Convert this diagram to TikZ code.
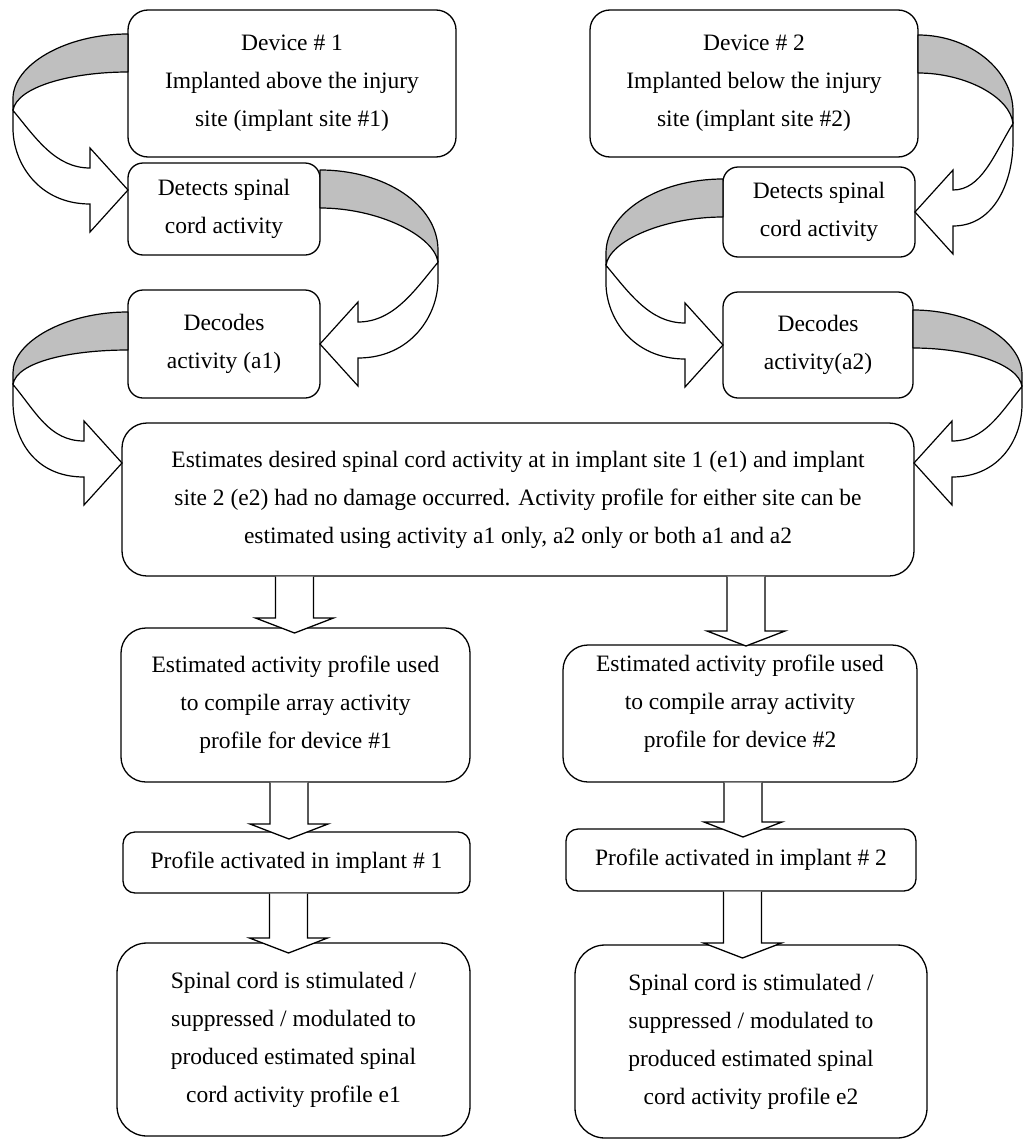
\documentclass[tikz,border=0pt]{standalone}
\usepackage{fontspec}
\setmainfont{Liberation Serif}
\usetikzlibrary{calc}

% Down-pointing block arrow: #1 gives the top edge (only its y is used), #2 the tip.
\newcommand\blockdown[2]{%
  \path[blockarr] let \p1=(#1), \p2=(#2) in
    ({\x2-19},{\y1-0.7}) -- ({\x2-19},{\y2+15}) -- ({\x2-39},{\y2+15}) -- (\p2)
    -- ({\x2+39},{\y2+15}) -- ({\x2+19},{\y2+15}) -- ({\x2+19},{\y1-0.7});}

% Twisted ribbon arrow: #1 top of ribbon at the source box side, #2 arrow tip,
% #3 direction (-1 left, 1 right), #4 reach, #5 position of the twist (fraction).
\newcommand\ribbon[5]{%
  \path[ribbonback] let \p1=(#1), \p2=(#2), \n2={\y1-\y2}, \n1={\y1-(#5)*\n2} in
    (\p1) .. controls ({\x1+(#3)*0.55*(#4)},{\y1}) and ({\x1+(#3)*(#4)},{\y1-0.2*\n2})
      .. ({\x1+(#3)*(#4)},{\n1+12}) -- ({\x1+(#3)*(#4)},{\n1})
      .. controls ({\x1+(#3)*0.97*(#4)},{\n1+0.15*\n2}) and ({\x1+(#3)*0.5*(#4)},{\y1-38})
      .. ({\x1},{\y1-38}) -- cycle;
  \path[ribbonfront] let \p1=(#1), \p2=(#2), \n2={\y1-\y2}, \n1={\y1-(#5)*\n2}, \n3={\n1-\y2} in
    ({\x1+(#3)*(#4)},{\n1}) -- ({\x1+(#3)*(#4)},{\n1-18})
      .. controls ({\x1+(#3)*(#4)},{\n1-18-0.45*(\n3-4)}) and ({\x2+(#3)*(38+0.45*(#4))},{\y2-14})
      .. ({\x2+(#3)*38},{\y2-14})
      -- ({\x2+(#3)*38},{\y2-42}) -- (\p2) -- ({\x2+(#3)*38},{\y2+42}) -- ({\x2+(#3)*38},{\y2+22})
      .. controls ({\x2+(#3)*(38+0.3*(#4))},{\y2+22}) and ({\x1+(#3)*0.8*(#4)},{\n1-0.35*\n3})
      .. ({\x1+(#3)*(#4)},{\n1}) -- cycle;}

\begin{document}
\begin{tikzpicture}[x=1pt,y=1pt,
  boxtext/.style={align=center, inner sep=0pt, font=\fontsize{23.5}{38}\selectfont},
  box/.style={boxtext, draw, line width=1.3pt, fill=white,
    outer sep=0pt, rounded corners=20pt},
  blockarr/.style={draw, fill=white, line width=1.3pt, line join=miter},
  ribbonback/.style={draw, fill=black!25, line width=1.2pt, line join=round},
  ribbonfront/.style={draw, fill=white, line width=1.2pt, line join=miter}]

\useasboundingbox (0,0) rectangle (1024,-1146);

% first column of the upper part
\node[box, minimum width=328pt, minimum height=147pt] (a) at (292,-83.5)
  {Device \# 1\\Implanted above the injury\\site (implant site \#1)};
\node[box, rounded corners=15pt, minimum width=192pt, minimum height=92pt] (b) at (224,-209)
  {Detects spinal\\cord activity};
\node[box, rounded corners=15pt, minimum width=192pt, minimum height=108pt] (c) at (224,-344)
  {Decodes\\activity (a1)};

% second column of the upper part
\node[box, minimum width=328pt, minimum height=147pt] (e) at (754,-83.5)
  {Device \# 2\\Implanted below the injury\\site (implant site \#2)};
\node[box, rounded corners=15pt, minimum width=192pt, minimum height=90pt] (f) at (819,-212)
  {Detects spinal\\cord activity};
\node[box, rounded corners=15pt, minimum width=190pt, minimum height=106pt] (g) at (818,-345)
  {Decodes\\activity(a2)};

% estimation step
\node[box, rounded corners=25pt, minimum width=792pt, minimum height=153pt] (d) at (518,-499.5)
  {Estimates desired spinal cord activity at in implant site 1 (e1) and implant\\
   site 2 (e2) had no damage occurred. Activity profile for either site can be\\
   estimated using activity a1 only, a2 only or both a1 and a2};

% lower columns
\node[box, rounded corners=25pt, minimum width=349pt, minimum height=154pt] (h) at (295.5,-705)
  {Estimated activity profile used\\to compile array activity\\profile for device \#1};
\node[box, rounded corners=25pt, minimum width=354pt, minimum height=137pt] (i) at (740,-713.5) {};
\node[boxtext] (itext) at ([yshift=9.5pt]i.center)
  {Estimated activity profile used\\to compile array activity\\profile for device \#2};
\node[box, rounded corners=12pt, minimum width=347pt, minimum height=61pt] (j) at (296.5,-862.5)
  {Profile activated in implant \# 1};
\node[box, rounded corners=12pt, minimum width=350pt, minimum height=62pt] (k) at (741,-860)
  {Profile activated in implant \# 2};
\node[box, rounded corners=30pt, minimum width=353pt, minimum height=193pt] (l) at (293.5,-1039.5)
  {Spinal cord is stimulated /\\suppressed / modulated to\\produced estimated spinal\\cord activity profile e1};
\node[box, rounded corners=30pt, minimum width=352pt, minimum height=193pt] (m) at (751,-1041.5)
  {Spinal cord is stimulated /\\suppressed / modulated to\\produced estimated spinal\\cord activity profile e2};

% ribbon arrows between the upper steps
\ribbon{[yshift=-24pt]a.north west}{[yshift=-27pt]b.north west}{-1}{115}{0.49}
\ribbon{[yshift=-7pt]b.north east}{c.east}{1}{118}{0.53}
\ribbon{[yshift=-22pt]c.north west}{[yshift=-40pt]d.north west}{-1}{115}{0.48}
\ribbon{[yshift=-25pt]e.north east}{f.east}{1}{95}{0.5}
\ribbon{[yshift=-12pt]f.north west}{g.west}{-1}{117}{0.52}
\ribbon{[yshift=-18pt]g.north east}{[yshift=-40pt]d.north east}{1}{109}{0.5}

% block arrows of the lower part
\blockdown{d.south}{[xshift=-1pt,yshift=-5pt]h.north}
\blockdown{d.south}{[xshift=6pt,yshift=-1pt]i.north}
\blockdown{h.south}{[xshift=-7.5pt,yshift=-7pt]j.north}
\blockdown{i.south}{[xshift=2pt,yshift=-8pt]k.north}
\blockdown{j.south}{[xshift=-5pt,yshift=-10pt]l.north}
\blockdown{k.south}{[xshift=-8.5pt,yshift=-13pt]m.north}
\end{tikzpicture}
\end{document}
